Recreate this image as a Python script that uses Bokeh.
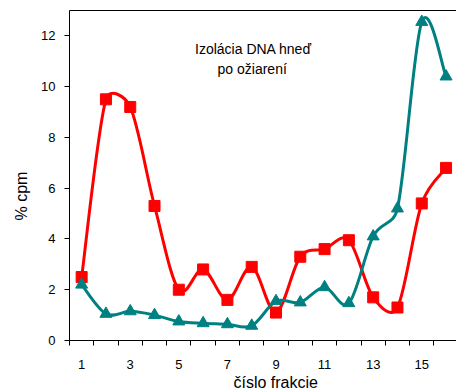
import math
from bokeh.plotting import figure
from bokeh.models import FixedTicker, Label, ColumnDataSource, LinearAxis, Title
from bokeh.embed import file_html
from bokeh.resources import INLINE

# ---------------- data ----------------
fractions = list(range(1, 17))
red_values = [2.5, 9.5, 9.2, 5.3, 2.0, 2.8, 1.6, 2.9, 1.1, 3.3, 3.6, 3.95, 1.7, 1.3, 5.4, 6.8]
teal_values = [2.2, 1.05, 1.15, 1.0, 0.75, 0.68, 0.64, 0.58, 1.55, 1.5, 2.1, 1.47, 4.1, 5.2, 12.55, 10.4]
x_tick_positions = [1, 3, 5, 7, 9, 11, 13, 15]
x_tick_labels = ["1", "3", "5", "7", "9", "11", "13", "15"]
y_ticks = [0, 2, 4, 6, 8, 10, 12]
title_lines = ["Izolácia DNA hneď", "po ožiarení"]
x_title = "číslo frakcie"
y_title = "% cpm"

# ---------------- style ----------------
FONT = "Liberation Sans"
RED = "#FF0000"
TEAL = "#008080"
SX, SY = 24.29, 25.46  # px per data unit (used for Excel-like smoothing)


def smooth_segments(xs, ys):
    """Excel-style smoothed line -> cubic Bezier control points."""
    pts = [(x * SX, y * SY) for x, y in zip(xs, ys)]
    n = len(pts)
    segs = {k: [] for k in ("x0", "y0", "x1", "y1", "cx0", "cy0", "cx1", "cy1")}

    def dist(a, b):
        return math.hypot(a[0] - b[0], a[1] - b[1])

    for i in range(n - 1):
        p0 = pts[i - 1] if i > 0 else pts[i]
        p1 = pts[i]
        p2 = pts[i + 1]
        p3 = pts[i + 2] if i + 2 < n else pts[i + 1]
        d02, d12, d13 = dist(p0, p2), dist(p1, p2), dist(p1, p3)
        f1 = 1 / 6 if d02 / 6 < d12 / 2 else d12 / (2 * d02)
        f2 = 1 / 6 if d13 / 6 < d12 / 2 else d12 / (2 * d13)
        c1 = (p1[0] + f1 * (p2[0] - p0[0]), p1[1] + f1 * (p2[1] - p0[1]))
        c2 = (p2[0] - f2 * (p3[0] - p1[0]), p2[1] - f2 * (p3[1] - p1[1]))
        segs["x0"].append(p1[0] / SX); segs["y0"].append(p1[1] / SY)
        segs["x1"].append(p2[0] / SX); segs["y1"].append(p2[1] / SY)
        segs["cx0"].append(c1[0] / SX); segs["cy0"].append(c1[1] / SY)
        segs["cx1"].append(c2[0] / SX); segs["cy1"].append(c2[1] / SY)
    return ColumnDataSource(segs)


p = figure(width=456, height=390, x_range=(0.5, 16.43), y_range=(0, 13),
           output_backend="svg", toolbar_location=None,
           min_border_left=69, min_border_right=0, min_border_top=10, min_border_bottom=49)
p.background_fill_color = "white"
p.border_fill_color = "white"
p.outline_line_color = None
p.grid.visible = False

# lines (both) then markers
red_src = smooth_segments(fractions, red_values)
teal_src = smooth_segments(fractions, teal_values)
p.bezier(x0="x0", y0="y0", x1="x1", y1="y1", cx0="cx0", cy0="cy0", cx1="cx1", cy1="cy1",
         source=red_src, line_color=RED, line_width=3, line_cap="round", line_join="round")
p.bezier(x0="x0", y0="y0", x1="x1", y1="y1", cx0="cx0", cy0="cy0", cx1="cx1", cy1="cy1",
         source=teal_src, line_color=TEAL, line_width=3, line_cap="round", line_join="round")
p.scatter(fractions, red_values, marker="square", size=11, fill_color=RED, line_color=RED)
p.scatter(fractions, teal_values, marker="triangle", size=12, fill_color=TEAL, line_color=TEAL)

# x axis (bottom)
xa = p.below[0]
xa.ticker = FixedTicker(ticks=x_tick_positions, minor_ticks=[i + 0.5 for i in range(0, 17)])
xa.major_label_overrides = {t: l for t, l in zip(x_tick_positions, x_tick_labels)}
xa.major_tick_out = 0
xa.major_tick_in = 0
xa.minor_tick_out = 5
xa.minor_tick_in = 0
xa.minor_tick_line_color = "black"
xa.axis_line_color = "black"
xa.major_label_standoff = 14
xa.major_label_text_font = FONT
xa.major_label_text_font_size = "13px"
xa.major_label_text_color = "black"

# y axis (left)
ya = p.left[0]
ya.ticker = FixedTicker(ticks=y_ticks)
ya.major_tick_out = 5
ya.major_tick_in = 0
ya.minor_tick_line_color = None
ya.axis_line_color = "black"
ya.major_tick_line_color = "black"
ya.major_label_standoff = 9
ya.major_label_text_font = FONT
ya.major_label_text_font_size = "13px"
ya.major_label_text_color = "black"

# top frame line: a bare axis above
top_axis = LinearAxis(ticker=FixedTicker(ticks=[]), axis_line_color="black",
                      major_tick_line_color=None, minor_tick_line_color=None,
                      major_label_text_font_size="0px", major_label_standoff=0)
p.add_layout(top_axis, "above")

# axis titles as Title panels (offset to match reference placement)
p.add_layout(Title(text=x_title, align="left", offset=164, standoff=0, vertical_align="bottom",
                   text_font=FONT, text_font_size="16px", text_font_style="normal",
                   text_color="black"), "below")
p.add_layout(Title(text=y_title, align="left", offset=120, standoff=18, vertical_align="bottom",
                   text_font=FONT, text_font_size="16px", text_font_style="normal",
                   text_color="black"), "left")

# chart annotation
p.add_layout(Label(x=8.07, y=11.50, text=title_lines[0], text_font=FONT, text_font_size="14px",
                   text_align="center", text_baseline="alphabetic", text_color="black"))
p.add_layout(Label(x=8.02, y=10.70, text=title_lines[1], text_font=FONT, text_font_size="14px",
                   text_align="center", text_baseline="alphabetic", text_color="black"))

open("out.html", "w").write(file_html(p, INLINE))
